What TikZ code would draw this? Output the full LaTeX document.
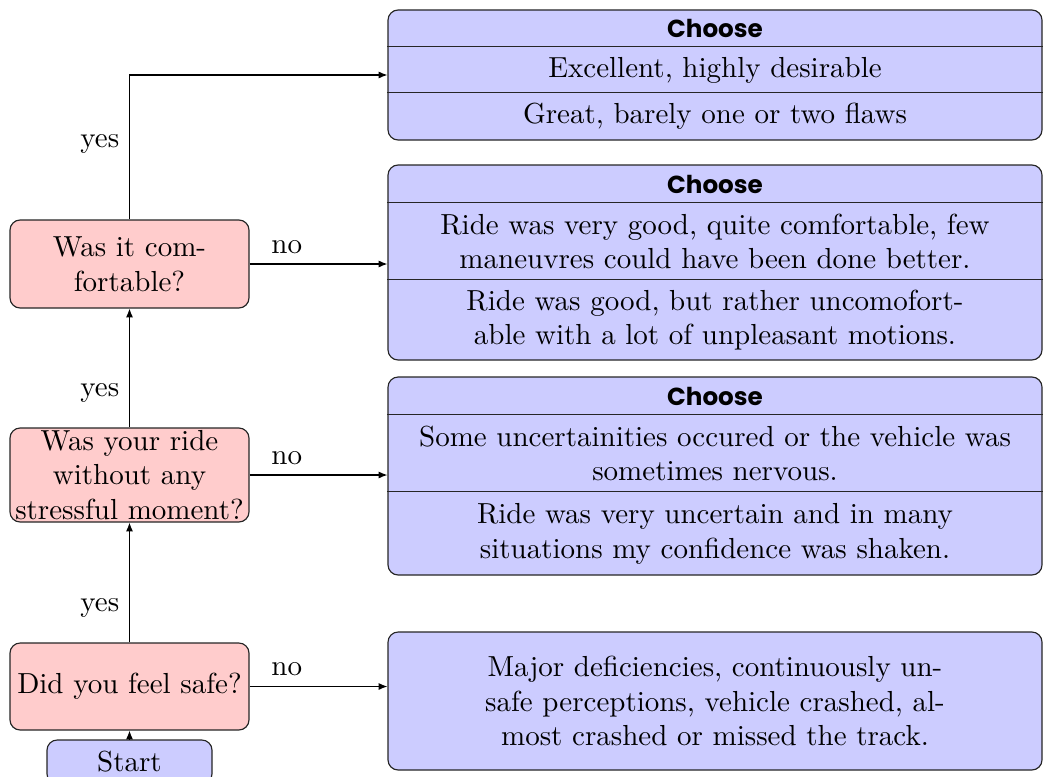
\documentclass[tikz,border=0pt]{standalone}
\usepackage{fontspec}
\newfontfamily\choosefont{Poppins}
\usetikzlibrary{arrows.meta}
\def\px{0.34483pt}
\tikzset{
  chbox/.style={draw=black!85, fill=blue!20, rounded corners=3.5pt, minimum width=654*\px, inner sep=0pt},
  qbox/.style={draw=black!85, fill=red!20, rounded corners=3.5pt, align=center, inner sep=0pt, minimum width=239*\px},
  rowtext/.style={minimum width=654*\px, align=center, inner sep=0pt},
  hdr/.style={minimum width=654*\px, inner sep=0pt, font=\choosefont\bfseries\fontsize{8.5}{10}\selectfont},
  divider/.style={draw=black!85},
  arr/.style={draw=black, -{Latex[length=3pt,width=2.4pt]}},
  lbl/.style={inner sep=3.33pt},
}
\begin{document}
\begin{tikzpicture}[x=\px, y=-\px]
\useasboundingbox (0,0) rectangle (1045,776);
% right-hand boxes
\node[chbox, minimum height=130*\px] (b1) at (715,75) {};
\node[hdr, minimum height=37*\px] (h1) at (715,28.5) {Choose};
\node[rowtext, minimum height=46*\px] (r11) at (715,70) {Excellent, highly desirable};
\node[rowtext, minimum height=47*\px] (r12) at (715,116.5) {Great, barely one or two flaws};
\draw[divider] (r11.north west) -- (r11.north east);
\draw[divider] (r12.north west) -- (r12.north east);

\node[chbox, minimum height=195*\px] (b2) at (715,262.5) {};
\node[hdr, minimum height=38*\px] (h2) at (715,184) {Choose};
\node[rowtext, minimum height=77*\px] (r21) at (715,241.5) {Ride was very good, quite comfortable, few\\maneuvres could have been done better.};
\node[rowtext, minimum height=80*\px] (r22) at (715,320) {Ride was good, but rather uncomofort-\\able with a lot of unpleasant motions.};
\draw[divider] (r21.north west) -- (r21.north east);
\draw[divider] (r22.north west) -- (r22.north east);

\node[chbox, minimum height=198*\px] (b3) at (715,476) {};
\node[hdr, minimum height=38*\px] (h3) at (715,396) {Choose};
\node[rowtext, minimum height=77*\px] (r31) at (715,453.5) {Some uncertainities occured or the vehicle was\\sometimes nervous.};
\node[rowtext, minimum height=83*\px] (r32) at (715,533.5) {Ride was very uncertain and in many\\situations my confidence was shaken.};
\draw[divider] (r31.north west) -- (r31.north east);
\draw[divider] (r32.north west) -- (r32.north east);

\node[chbox, minimum height=138*\px, align=center] (b4) at (715,701) {Major deficiencies, continuously un-\\safe perceptions, vehicle crashed, al-\\most crashed or missed the track.};

% left-hand questions
\node[qbox, minimum height=88*\px] (q3) at (129.5,264) {Was it com-\\fortable?};
\node[qbox, minimum height=94*\px] (q2) at (129.5,475) {Was your ride\\without any\\stressful moment?};
\node[qbox, minimum height=87*\px] (q1) at (129.5,686.5) {Did you feel safe?};
\node[draw=black!85, fill=blue!20, rounded corners=3.5pt, minimum width=165*\px, minimum height=44*\px, inner sep=0pt] (start) at (129.5,762) {Start};

% connectors
\draw[arr] (start.north) -- (q1.south);
\draw[arr] (q1.north) -- node[lbl, pos=0.29, left] {yes} (q2.south);
\draw[arr] (q2.north) -- node[lbl, pos=0.29, left] {yes} (q3.south);
\draw[arr] (q3.north) |- node[lbl, pos=0.26, left] {yes} (b1.west);
\draw[arr] (q3.east) -- node[lbl, pos=0.27, above] {no} (q3.east -| b2.west);
\draw[arr] (q2.east) -- node[lbl, pos=0.27, above] {no} (q2.east -| b3.west);
\draw[arr] (q1.east) -- node[lbl, pos=0.27, above] {no} (q1.east -| b4.west);
\end{tikzpicture}
\end{document}
